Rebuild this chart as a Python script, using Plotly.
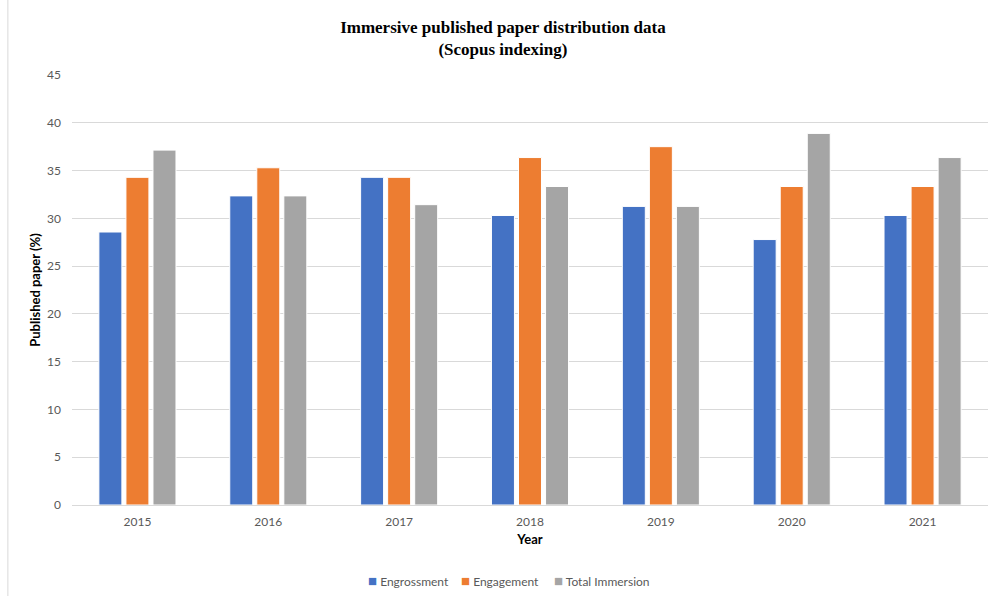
import plotly.graph_objects as go

years = ["2015", "2016", "2017", "2018", "2019", "2020", "2021"]
engrossment = [28.57, 32.35, 34.29, 30.30, 31.25, 27.78, 30.30]
engagement = [34.29, 35.29, 34.29, 36.36, 37.50, 33.33, 33.33]
total_immersion = [37.14, 32.35, 31.43, 33.33, 31.25, 38.89, 36.36]

series = [
    ("Engrossment", engrossment, "#4472C4"),
    ("Engagement", engagement, "#ED7D31"),
    ("Total Immersion", total_immersion, "#A5A5A5"),
]

fig = go.Figure()
for name, vals, col in series:
    fig.add_trace(go.Bar(
        x=years, y=vals, name=name, showlegend=False,
        marker=dict(color=col, line=dict(color="white", width=1)),
    ))

# legend drawn as annotations (compact symbol/text spacing)
legend_x_px = [366, 459, 552]
annotations = []
for (name, vals, col), px in zip(series, legend_x_px):
    annotations.append(dict(
        xref="paper", yref="paper", x=(px - 72) / 916, y=(505 - 580) / 430,
        xanchor="left", yanchor="middle", showarrow=False,
        text=f"<span style='color:{col};font-size:15px'>■</span> {name}",
        font=dict(size=12, color="#595959"),
    ))

fig.update_layout(
    width=990, height=596,
    paper_bgcolor="white", plot_bgcolor="white",
    margin=dict(l=72, r=2, t=75, b=91, autoexpand=False),
    barmode="group", bargap=0.38, bargroupgap=0.15,
    font=dict(family="Lato, Open Sans, sans-serif", size=12, color="#595959"),
    title=dict(
        text="Immersive published paper distribution data<br>(Scopus indexing)",
        x=0.508, xanchor="center", y=0.945, yanchor="top",
        font=dict(family="Liberation Serif, Times New Roman, serif", size=17, color="black", weight="bold"),
    ),
    xaxis=dict(
        title=dict(text="Year", font=dict(size=13, color="black", weight="bold"), standoff=6),
        showline=True, linecolor="#D9D9D9", linewidth=1,
        ticks="", tickfont=dict(size=12, color="#595959"), ticklabelstandoff=6,
    ),
    yaxis=dict(
        title=dict(text="Published paper (%)", font=dict(size=13, color="black", weight="bold"), standoff=3),
        range=[0, 45], dtick=5, showgrid=True, gridcolor="#D9D9D9", gridwidth=1,
        zeroline=False, ticks="", tickfont=dict(size=12, color="#595959"), ticklabelstandoff=10,
    ),
    annotations=annotations,
    shapes=[dict(type="line", xref="paper", yref="paper", x0=-0.07, x1=-0.07, y0=-0.22, y1=1.18,
                 line=dict(color="#D9D9D9", width=1))],
)

fig.write_html("out.html")
